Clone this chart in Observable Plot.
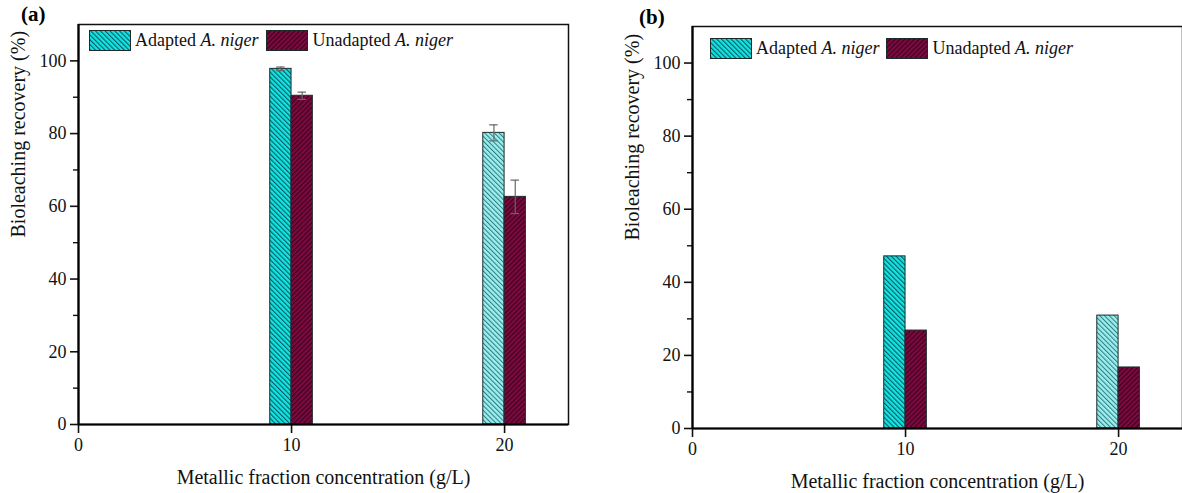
<!DOCTYPE html>
<html>
<head>
<meta charset="utf-8">
<script src="https://cdn.jsdelivr.net/npm/d3@7"></script>
<script src="https://cdn.jsdelivr.net/npm/@observablehq/plot@0.6"></script>
<style>
  html, body { margin: 0; padding: 0; background: #fff; }
  #wrap { position: relative; width: 1182px; height: 493px; overflow: hidden; font-family: "Liberation Serif", "Times New Roman", serif; }
  #wrap svg, #wrap svg text { font-family: "Liberation Serif", "Times New Roman", serif !important; }
  .panel { position: absolute; top: 0; }
  .plabel { position: absolute; font-weight: bold; font-size: 21px; color: #000; }
  .legend { position: absolute; display: flex; align-items: center; font-size: 18px; color: #111; white-space: nowrap; }
  .legend svg { margin-right: 4px; display: block; }
  .legend span.item { display: flex; align-items: center; }
</style>
</head>
<body>
<svg width="0" height="0" style="position:absolute">
  <defs>
    <pattern id="hatchA" patternUnits="userSpaceOnUse" width="3.4" height="3.4" patternTransform="rotate(-45)">
      <rect width="3.4" height="3.4" fill="#12e4e4"></rect>
      <rect width="1.1" height="3.4" fill="#0a5a60"></rect>
    </pattern>
    <pattern id="hatchA2" patternUnits="userSpaceOnUse" width="3.4" height="3.4" patternTransform="rotate(-45)">
      <rect width="3.4" height="3.4" fill="#9aeeee"></rect>
      <rect width="1.0" height="3.4" fill="#2f7a7e"></rect>
    </pattern>
    <pattern id="hatchU" patternUnits="userSpaceOnUse" width="3.4" height="3.4" patternTransform="rotate(45)">
      <rect width="3.4" height="3.4" fill="#7c0a3e"></rect>
      <rect width="1.1" height="3.4" fill="#3c0020"></rect>
    </pattern>
  </defs>
</svg>
<div id="wrap"></div>
<script>
// ---- data ----
const concentrations = [10, 20];
const seriesNames = ["Adapted", "Unadapted"];
const adaptedA = [97.8, 80.2];
const adaptedAErr = [0.5, 2.2];
const unadaptedA = [90.4, 62.6];
const unadaptedAErr = [1.0, 4.6];
const adaptedB = [47.1, 30.9];
const unadaptedB = [26.8, 16.7];
const yTicks = [0, 20, 40, 60, 80, 100];
const yMinorTicks = [10, 30, 50, 70, 90];
const xTicks = [0, 10, 20];
const xLabel = "Metallic fraction concentration (g/L)";
const yLabel = "Bioleaching recovery (%)";

function rows(adapted, unadapted, aErr, uErr) {
  const out = [];
  concentrations.forEach((c, i) => {
    out.push({conc: c, series: "Adapted", value: adapted[i], err: aErr ? aErr[i] : null, idx: i});
    out.push({conc: c, series: "Unadapted", value: unadapted[i], err: uErr ? uErr[i] : null, idx: i});
  });
  return out;
}

const font = "Liberation Serif";

function makePanel(data, opts) {
  const x1 = d => d.series === "Adapted" ? d.conc - 1 : d.conc;
  const x2 = d => d.series === "Adapted" ? d.conc : d.conc + 1;
  const xc = d => d.series === "Adapted" ? d.conc - 0.5 : d.conc + 0.5;
  const errs = data.filter(d => d.err != null);
  const fillFor = d => d.series === "Unadapted" ? "url(#hatchU)" : (d.idx === 0 ? "url(#hatchA)" : "url(#hatchA2)");
  return Plot.plot({
    width: opts.width,
    height: 493,
    marginLeft: opts.ml,
    marginRight: opts.mr,
    marginTop: opts.mt,
    marginBottom: opts.mb,
    style: {fontFamily: font, fontSize: "18px", color: "#111", background: "transparent", overflow: "visible"},
    x: {domain: [0, 23]},
    y: {domain: [0, 110]},
    color: {type: "identity"},
    marks: [
      Plot.rectY(data, {x1, x2, y1: 0, y2: "value", fill: fillFor, stroke: "#1b2b2b", strokeWidth: 1}),
      Plot.ruleX(errs, {x: xc, y1: d => d.value - d.err, y2: d => d.value + d.err, stroke: "#666", strokeWidth: 1.2}),
      Plot.ruleY(errs, {y: d => d.value + d.err, x1: d => xc(d) - 0.2, x2: d => xc(d) + 0.2, stroke: "#666", strokeWidth: 1.2}),
      Plot.ruleY(errs, {y: d => d.value - d.err, x1: d => xc(d) - 0.2, x2: d => xc(d) + 0.2, stroke: "#666", strokeWidth: 1.2}),
      Plot.frame({stroke: "#111", strokeWidth: 1.5}),
      Plot.axisY({ticks: yTicks, tickSize: 8, tickPadding: 4, tickFormat: d => String(d), label: null, fontSize: 18, strokeWidth: 1.6, stroke: "#111"}),
      Plot.axisY({ticks: yMinorTicks, tickSize: 5, tickFormat: null, text: null, label: null, strokeWidth: 1.4, stroke: "#111"}),
      Plot.axisX({ticks: xTicks, tickSize: 9, tickPadding: 5, tickFormat: d => String(d), label: null, fontSize: 18, strokeWidth: 1.6, stroke: "#111"}),
      Plot.ruleX([0], {stroke: "#000", strokeWidth: 2.2}),
      Plot.ruleY([0], {stroke: "#000", strokeWidth: 2.2}),
      Plot.text([xLabel], {frameAnchor: "bottom", dy: opts.xlDy, fontSize: 20, fill: "#111", fontFamily: font}),
      Plot.text([yLabel], {frameAnchor: "left", rotate: -90, dx: opts.ylDx, dy: opts.ylDy, fontSize: 20, fill: "#111", fontFamily: font})
    ]
  });
}

const wrap = document.getElementById("wrap");

const pa = makePanel(rows(adaptedA, unadaptedA, adaptedAErr, unadaptedAErr),
  {width: 591, ml: 78, mr: 23, mt: 24, mb: 69, xlDy: 59, ylDx: -60, ylDy: 13});
pa.classList.add("panel");
pa.style.left = "0px";
wrap.appendChild(pa);

const pb = makePanel(rows(adaptedB, unadaptedB, null, null),
  {width: 591, ml: 101, mr: 0, mt: 26, mb: 65, xlDy: 59, ylDx: -60, ylDy: 13});
pb.classList.add("panel");
pb.style.left = "591px";
wrap.appendChild(pb);

function addLabel(txt, left, top) {
  const d = document.createElement("div");
  d.className = "plabel";
  d.textContent = txt;
  d.style.left = left + "px";
  d.style.top = top + "px";
  wrap.appendChild(d);
}
addLabel("(a)", 21, 2);
addLabel("(b)", 639, 5);

function swatch(pat) {
  return `<svg width="42" height="21"><rect x="0.5" y="0.5" width="41" height="20" fill="url(#${pat})" stroke="#1b2b2b" stroke-width="1"/></svg>`;
}
function addLegend(left, top, gap) {
  const d = document.createElement("div");
  d.className = "legend";
  d.style.left = left + "px";
  d.style.top = top + "px";
  d.innerHTML = `<span class="item">${swatch("hatchA")}<span>Adapted <i>A. niger</i></span></span>` +
                `<span class="item" style="margin-left:${gap}px">${swatch("hatchU")}<span>Unadapted <i>A. niger</i></span></span>`;
  wrap.appendChild(d);
}
addLegend(89, 30, 8);
addLegend(710, 38, 7);
</script>
</body>
</html>
